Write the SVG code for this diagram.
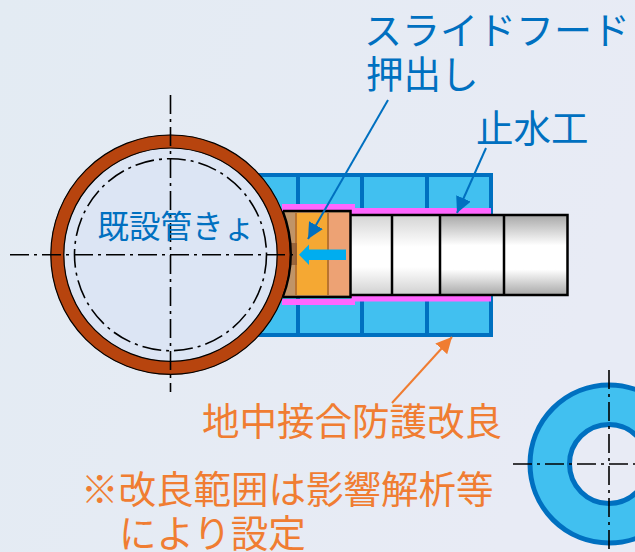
<svg xmlns="http://www.w3.org/2000/svg" width="635" height="552" viewBox="0 0 635 552">
<style>
.t{font-family:"Noto Sans CJK JP","Noto Sans",sans-serif;font-size:37.500px}
.b{fill:#0070c0}.o{fill:#f07d32}
.ctr{fill:none;stroke:#000;stroke-width:1.600;stroke-dasharray:19 5 3 5}
.bl{stroke:#0070c0;stroke-width:4;fill:none}
.pipe{stroke:#000;stroke-width:2.500}
.lead{stroke:#0070c0;stroke-width:2;fill:none}
</style>
<defs>
<linearGradient id="bg" x1="0" y1="0" x2="1" y2="0.3"><stop offset="0" stop-color="#e3ebf3"/><stop offset="1" stop-color="#e8ebf5"/></linearGradient>
<linearGradient id="g1" x1="0" y1="0" x2="0" y2="1"><stop offset="0" stop-color="#d4d4d4"/><stop offset="0.4" stop-color="#fff"/><stop offset="0.65" stop-color="#fff"/><stop offset="1" stop-color="#d0d0d0"/></linearGradient>
<linearGradient id="g2" x1="0" y1="0" x2="0" y2="1"><stop offset="0" stop-color="#a8a8a8"/><stop offset="0.38" stop-color="#fff"/><stop offset="0.68" stop-color="#fff"/><stop offset="1" stop-color="#a8a8a8"/></linearGradient>
<marker id="ab" markerUnits="userSpaceOnUse" markerWidth="18" markerHeight="16" refX="16" refY="8" orient="auto"><path d="M0 0L16 8L0 16Z" fill="#0070c0"/></marker>
<marker id="ao" markerUnits="userSpaceOnUse" markerWidth="18" markerHeight="16" refX="16" refY="8" orient="auto"><path d="M0 0L16 8L0 16Z" fill="#f07d32"/></marker>
</defs>
<rect width="635" height="552" fill="url(#bg)"/>
<g id="improvement">
<rect x="240" y="175" width="251" height="160" fill="#41c0f0" stroke="#0070c0" stroke-width="4"/>
<path class="bl" d="M298 175V335M362 175V335M427 175V335"/>
</g>
<g id="waterstop">
<path fill="#ff66ff" d="M282 204H355V208H491V214H351V211H282ZM282 299H351V295H491V301.500H355V305H282Z"/>
</g>
<g id="pushed-pipe">
<rect x="350" y="215" width="92" height="80" fill="url(#g1)"/>
<rect x="440" y="215" width="128" height="80" fill="url(#g2)"/>
<path class="pipe" fill="none" d="M350 215H567.500V295H350M392 215V295M440 215V295M504 215V295"/>
</g>
<g id="slide-hood">
<rect x="283" y="211" width="67.500" height="86" fill="#c09468"/>
<rect x="296" y="213" width="32" height="82" fill="#f5a833"/>
<rect x="328" y="213" width="22" height="82" fill="#eda274"/>
<path d="M296 213V295M328 213V295" stroke="#b9732f" stroke-width="2"/>
<rect x="291" y="243" width="6" height="22" fill="#8f5a33" opacity="0.8"/>
<path d="M283 211H350.500V297H283" fill="none" stroke="#000" stroke-width="2.500"/>
<path d="M299 254.700L309 244.500V249.500H346V260H309V265Z" fill="#00adef"/>
</g>
<g id="existing-pipe">
<circle cx="170.500" cy="254.700" r="113.200" fill="#dce5f4"/>
<circle cx="170.500" cy="254.700" r="113.200" fill="none" stroke="#b7440e" stroke-width="13.500"/>
<circle cx="170.500" cy="254.700" r="119.700" fill="none" stroke="#000" stroke-width="1.200"/>
<circle cx="170.500" cy="254.700" r="106.700" fill="none" stroke="#000" stroke-width="1.200"/>
<path d="M283 211A120 120 0 0 1 283 297" fill="none" stroke="#000" stroke-width="2"/>
<circle class="ctr" cx="170.500" cy="254.700" r="96"/>
<path class="ctr" d="M10 254.700H298M170.500 95V392"/>
<text class="t b" x="97.500" y="238" style="font-size:31.500px">既設管きょ</text>
</g>
<g id="ground-ring">
<circle cx="609" cy="464" r="59" fill="#41c0f0" fill-opacity="0" stroke="#41c0f0" stroke-width="39"/>
<circle cx="609" cy="464" r="79" fill="none" stroke="#0070c0" stroke-width="5"/>
<circle cx="609" cy="464" r="39.500" fill="none" stroke="#0070c0" stroke-width="5"/>
<path class="ctr" d="M513 464H635M609 370V552"/>
</g>
<g id="connectors">
<path class="lead" marker-end="url(#ab)" d="M388 100L308 239"/>
<path class="lead" marker-end="url(#ab)" d="M486 148L457 213"/>
<path fill="none" stroke="#f07d32" stroke-width="2" marker-end="url(#ao)" d="M392 403L452 337"/>
</g>
<g id="labels">
<text class="t b" x="364" y="44" style="font-size:38px">スライドフード</text>
<text class="t b" x="366" y="88">押出し</text>
<text class="t b" x="476" y="142">止水工</text>
<text class="t o" x="202" y="435">地中接合防護改良</text>
<text class="t o" x="81" y="503">※改良範囲は影響解析等</text>
<text class="t o" x="119" y="547">により設定</text>
</g>
</svg>
